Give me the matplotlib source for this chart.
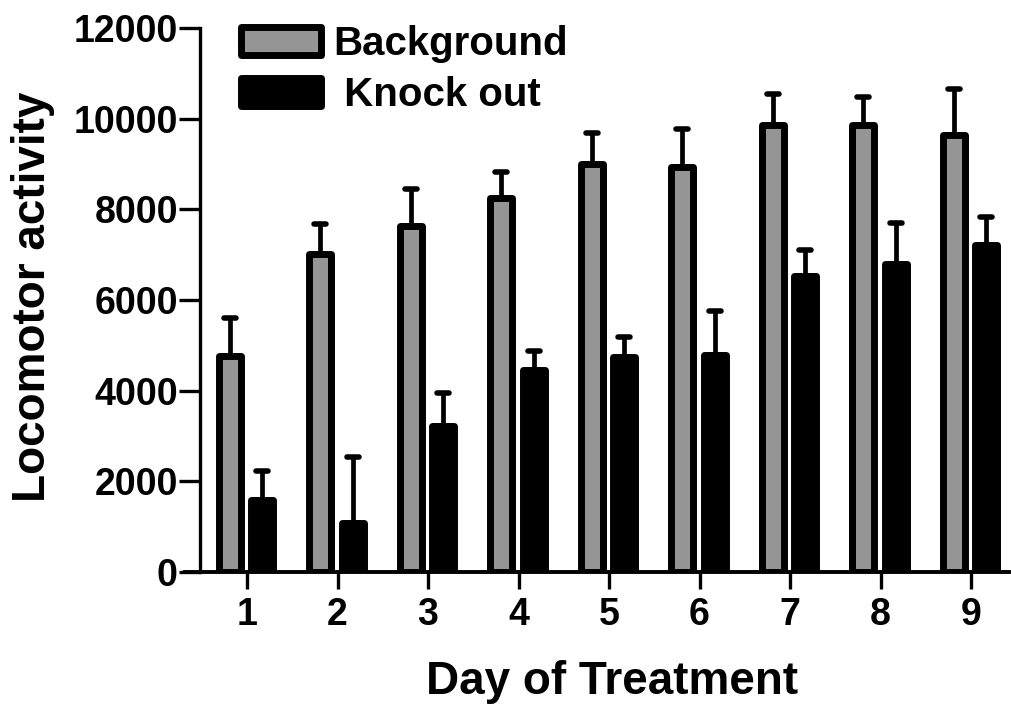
import matplotlib
matplotlib.use("Agg")
import matplotlib.pyplot as plt
from matplotlib.markers import MarkerStyle
import numpy as np

days = [1, 2, 3, 4, 5, 6, 7, 8, 9]
day_labels = ["1", "2", "3", "4", "5", "6", "7", "8", "9"]
background_mean = [4765, 7015, 7633, 8261, 9011, 8923, 9860, 9860, 9640]
background_sem = [831, 655, 823, 563, 673, 856, 684, 625, 1022]
knockout_mean = [1588, 1070, 3221, 4456, 4732, 4776, 6530, 6805, 7218]
knockout_sem = [647, 1474, 735, 419, 459, 989, 573, 886, 620]
y_ticks = [0, 2000, 4000, 6000, 8000, 10000, 12000]
series_names = ["Background", " Knock out"]

plt.rcParams['font.family'] = ['Liberation Sans', 'DejaVu Sans']
plt.rcParams['font.weight'] = 'bold'

fig = plt.figure(figsize=(10.11, 7.09), dpi=100)
ax = fig.add_axes([200 / 1011, 1 - 572 / 709, 809 / 1011, 544 / 709])

x = np.array(days, dtype=float)
w = 0.243
edge_lw = 5.0
gray = '#959595'

b1 = ax.bar(x - 0.19, background_mean, width=w, color=gray, edgecolor='black',
            linewidth=edge_lw, label=series_names[0], zorder=3)
b2 = ax.bar(x + 0.17, knockout_mean, width=w, color='black', edgecolor='black',
            linewidth=edge_lw, label=series_names[1], zorder=3)
for bars in (b1, b2):
    for p in bars:
        p.set_joinstyle('round')

for off, mean, sem in ((-0.19, background_mean, background_sem),
                       (0.17, knockout_mean, knockout_sem)):
    eb = ax.errorbar(x + off, mean, yerr=[np.zeros(len(sem)), sem], fmt='none',
                     ecolor='black', elinewidth=3.4, capsize=9, capthick=4.0, zorder=2)
    for cl in eb[1]:
        cl.set_marker(MarkerStyle('_', capstyle='round'))
        cl.set_markersize(9)
        cl.set_markeredgewidth(4.0)

ax.set_xlim(0.48, 9.42)
ax.set_ylim(0, 12000)
ax.set_yticks(y_ticks)
ax.set_yticklabels([str(t) for t in y_ticks])
ax.set_xticks(days)
ax.set_xticklabels(day_labels)

for s in ('top', 'right'):
    ax.spines[s].set_visible(False)
ax.spines['left'].set_linewidth(2.4)
ax.spines['bottom'].set_linewidth(2.8)
ax.spines['bottom'].set_bounds(0.315, 9.42)
ax.spines['left'].set_zorder(4)
ax.spines['bottom'].set_zorder(4)

ax.tick_params(axis='y', direction='out', length=15, width=2.4, labelsize=27, pad=1)
ax.tick_params(axis='x', direction='out', length=12, width=2.4, labelsize=27, pad=6)
for lab in ax.get_xticklabels() + ax.get_yticklabels():
    lab.set_fontweight('bold')

ax.set_ylabel("Locomotor activity", fontsize=33, fontweight='bold')
ax.yaxis.set_label_coords(-0.179, 0.505)
ax.set_xlabel("Day of Treatment", fontsize=33, fontweight='bold')
ax.xaxis.set_label_coords(0.509, -0.162)

leg = ax.legend(loc='upper left', bbox_to_anchor=(240.5 / 1011, 1 - 25 / 709),
                bbox_transform=fig.transFigure, frameon=False,
                handlelength=1.99, handleheight=0.70, handletextpad=0.31,
                labelspacing=0.33, borderpad=0, borderaxespad=0,
                prop={'weight': 'bold', 'size': 29})
for h in leg.legend_handles:
    h.set_joinstyle('round')

fig.savefig("out.png", dpi=100)
